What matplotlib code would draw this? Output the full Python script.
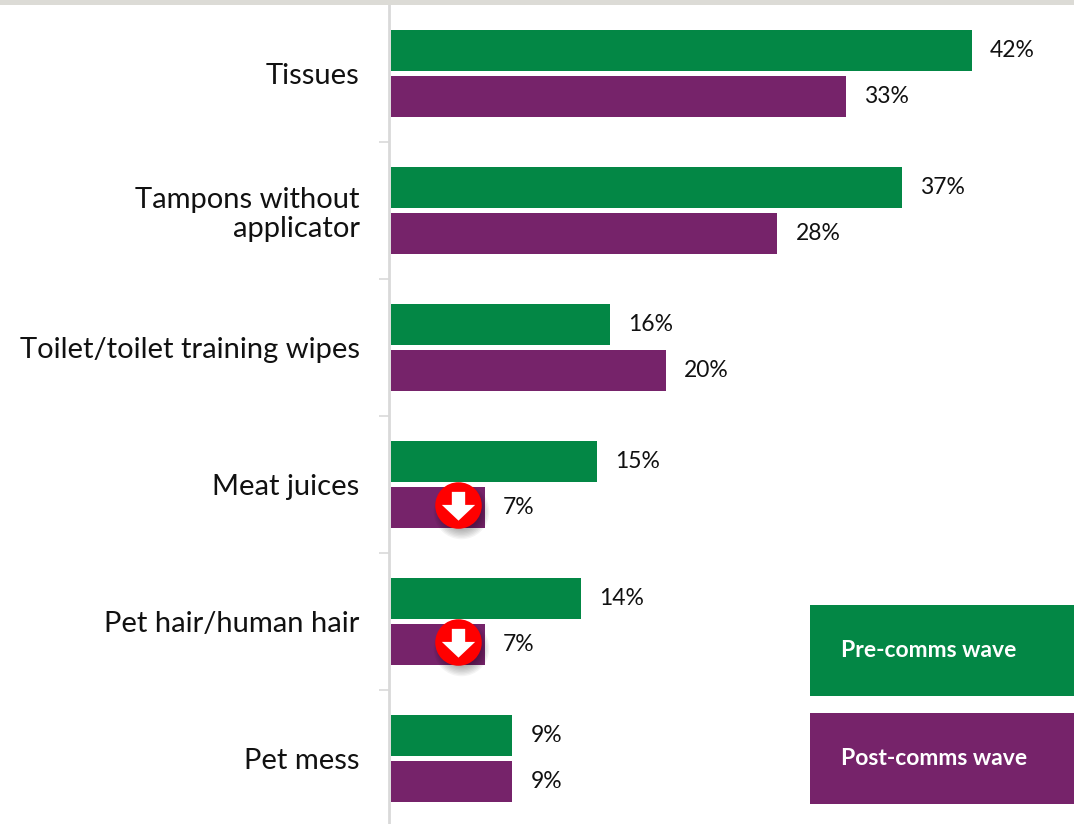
import numpy as np
from matplotlib import pyplot as plt
from matplotlib.patches import Rectangle
from matplotlib.path import Path

categories = ["Tissues", "Tampons without\napplicator", "Toilet/toilet training wipes",
              "Meat juices", "Pet hair/human hair", "Pet mess"]
preComms = [42.1, 37.0, 15.9, 14.9, 13.8, 8.8]
postComms = [33.0, 28.0, 19.9, 6.8, 6.8, 8.8]
preLabels = ["42%", "37%", "16%", "15%", "14%", "9%"]
postLabels = ["33%", "28%", "20%", "7%", "7%", "9%"]
legendNames = ["Pre-comms wave", "Post-comms wave"]
dropCategories = [3, 4]

GREEN = "#038745"
PURPLE = "#76236a"
W, H = 1074, 824

plt.rcParams["font.family"] = ["Lato", "DejaVu Sans"]

fig = plt.figure(figsize=(W / 100, H / 100), dpi=100)
ax = fig.add_axes([391 / W, 0, 1 - 391 / W, (H - 5) / H])

pos = np.arange(len(categories)) + 0.5
barH = 41 / 137
off = 23 / 137
ax.barh(pos - off, preComms, barH, color=GREEN)
ax.barh(pos + off, postComms, barH, color=PURPLE)

ax.set_xlim(0, (W - 391) / 13.8)
ax.set_ylim((H - 5) / 137, 0)

for y, v, s in zip(pos - off, preComms, preLabels):
    ax.annotate(s, (v, y), xytext=(18, 0), textcoords="offset pixels", va="center", fontsize=16.5, color="#111111")
for y, v, s in zip(pos + off, postComms, postLabels):
    ax.annotate(s, (v, y), xytext=(18, 0), textcoords="offset pixels", va="center", fontsize=16.5, color="#111111")

# axis: only the line and the band ticks are visible
for name in ["top", "right", "bottom"]:
    ax.spines[name].set_visible(False)
ax.spines["left"].set_position(("outward", 1.5))
ax.spines["left"].set_color("#d9d9d9")
ax.spines["left"].set_linewidth(2)
ax.set_xticks([])
ax.set_yticks(pos)
ax.set_yticklabels(categories, fontsize=21, color="#111111", linespacing=1.12, ha="right")
ax.set_yticks(np.arange(1, len(categories)), minor=True)
ax.tick_params(axis="y", which="major", length=0, pad=21)
ax.tick_params(axis="y", which="minor", length=7, width=1.2, color="#d9d9d9")

# red down arrow badges sit on the purple bars
arrow = Path([(-0.22, 0.45), (0.22, 0.45), (0.22, 0.02), (0.55, 0.02), (0, -0.5),
              (-0.55, 0.02), (-0.22, 0.02), (-0.22, 0.45)], closed=True)
scale = 13.8
for c in dropCategories:
    x = (458 - 391) / scale
    y = pos[c] + off - 3 / 137
    for i in range(9):
        ax.plot(x + 3 / scale, y + 6 / 137, "o", ms=34 - i * 2 + 6, color="black", alpha=0.045,
                mew=0, clip_on=False, zorder=3)
    ax.plot(x, y, "o", ms=33.5, color="#ff0000", mew=0, zorder=4)
    ax.plot(x, y, marker=arrow, ms=24, color="white", mew=0, zorder=5)

# legend boxes and the thin band along the top
fig.add_artist(Rectangle((0, 1 - 5 / H), 1, 5 / H, color="#dcdbd6", lw=0))
boxes = [(605, 696, GREEN), (713, 804, PURPLE)]
for (top, bottom, col), name in zip(boxes, legendNames):
    fig.add_artist(Rectangle((810 / W, 1 - bottom / H), (W - 810) / W, (bottom - top) / H, color=col, lw=0))
    fig.text(841 / W, 1 - (top + bottom) / 2 / H, name, color="white", fontsize=16.5, fontweight="bold",
             va="center", ha="left")

fig.savefig("out.png", dpi=100)
